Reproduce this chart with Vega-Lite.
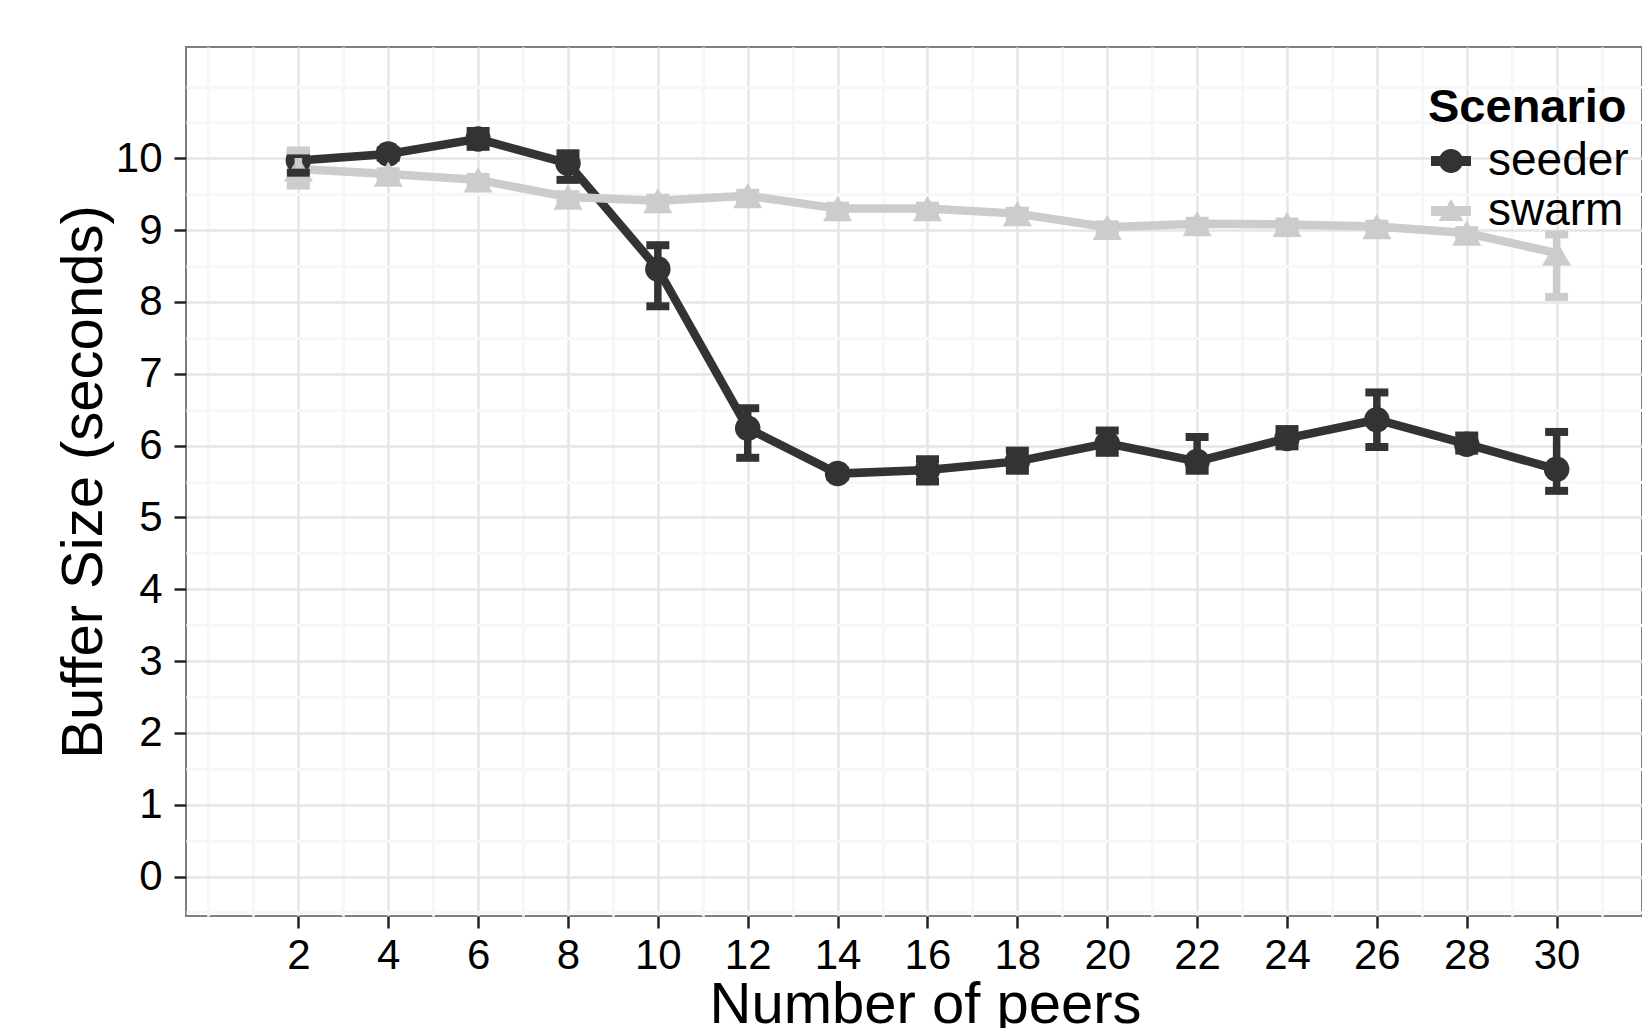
{
  "$schema": "https://vega.github.io/schema/vega-lite/v6.json",
  "width": 1456,
  "height": 869,
  "autosize": {"type": "none"},
  "padding": {"left": 186, "top": 47, "right": 0, "bottom": 112},
  "background": "white",
  "config": {
    "font": "Liberation Sans",
    "view": {"stroke": "#7f7f7f", "strokeWidth": 2}
  },
  "data": {
    "values": [
      {"n": 2, "scenario": "seeder", "buffer": 9.97, "lo": 9.80, "hi": 10.06},
      {"n": 4, "scenario": "seeder", "buffer": 10.06, "lo": 10.01, "hi": 10.11},
      {"n": 6, "scenario": "seeder", "buffer": 10.27, "lo": 10.16, "hi": 10.38},
      {"n": 8, "scenario": "seeder", "buffer": 9.93, "lo": 9.70, "hi": 10.07},
      {"n": 10, "scenario": "seeder", "buffer": 8.46, "lo": 7.94, "hi": 8.79},
      {"n": 12, "scenario": "seeder", "buffer": 6.24, "lo": 5.83, "hi": 6.52},
      {"n": 14, "scenario": "seeder", "buffer": 5.61, "lo": 5.57, "hi": 5.65},
      {"n": 16, "scenario": "seeder", "buffer": 5.66, "lo": 5.50, "hi": 5.81},
      {"n": 18, "scenario": "seeder", "buffer": 5.78, "lo": 5.65, "hi": 5.93},
      {"n": 20, "scenario": "seeder", "buffer": 6.03, "lo": 5.90, "hi": 6.21},
      {"n": 22, "scenario": "seeder", "buffer": 5.78, "lo": 5.65, "hi": 6.12},
      {"n": 24, "scenario": "seeder", "buffer": 6.10, "lo": 5.99, "hi": 6.23},
      {"n": 26, "scenario": "seeder", "buffer": 6.36, "lo": 5.98, "hi": 6.74},
      {"n": 28, "scenario": "seeder", "buffer": 6.02, "lo": 5.93, "hi": 6.14},
      {"n": 30, "scenario": "seeder", "buffer": 5.67, "lo": 5.37, "hi": 6.19},
      {"n": 2, "scenario": "swarm", "buffer": 9.85, "lo": 9.62, "hi": 10.11},
      {"n": 4, "scenario": "swarm", "buffer": 9.78, "lo": 9.74, "hi": 9.82},
      {"n": 6, "scenario": "swarm", "buffer": 9.70, "lo": 9.66, "hi": 9.74},
      {"n": 8, "scenario": "swarm", "buffer": 9.46, "lo": 9.42, "hi": 9.50},
      {"n": 10, "scenario": "swarm", "buffer": 9.41, "lo": 9.37, "hi": 9.45},
      {"n": 12, "scenario": "swarm", "buffer": 9.48, "lo": 9.44, "hi": 9.52},
      {"n": 14, "scenario": "swarm", "buffer": 9.30, "lo": 9.26, "hi": 9.34},
      {"n": 16, "scenario": "swarm", "buffer": 9.30, "lo": 9.26, "hi": 9.34},
      {"n": 18, "scenario": "swarm", "buffer": 9.23, "lo": 9.19, "hi": 9.27},
      {"n": 20, "scenario": "swarm", "buffer": 9.04, "lo": 9.00, "hi": 9.08},
      {"n": 22, "scenario": "swarm", "buffer": 9.09, "lo": 9.05, "hi": 9.13},
      {"n": 24, "scenario": "swarm", "buffer": 9.08, "lo": 9.04, "hi": 9.12},
      {"n": 26, "scenario": "swarm", "buffer": 9.05, "lo": 9.01, "hi": 9.09},
      {"n": 28, "scenario": "swarm", "buffer": 8.96, "lo": 8.92, "hi": 9.00},
      {"n": 30, "scenario": "swarm", "buffer": 8.68, "lo": 8.07, "hi": 8.94}
    ]
  },
  "resolve": {
    "axis": {"x": "independent", "y": "independent"},
    "scale": {"shape": "independent"},
    "legend": {"color": "independent", "shape": "independent"}
  },
  "layer": [
    {
      "mark": {"type": "point", "opacity": 0},
      "encoding": {
        "x": {"field": "n", "type": "quantitative", "scale": {"domain": [-0.5, 31.9], "nice": false, "zero": false},
          "axis": {"orient": "top", "values": [0, 1, 3, 5, 7, 9, 11, 13, 15, 17, 19, 21, 23, 25, 27, 29, 31], "labels": false, "ticks": false, "domain": false, "title": null, "grid": true, "gridColor": "#f7f7f7", "gridWidth": 3}},
        "y": {"field": "buffer", "type": "quantitative", "scale": {"domain": [-0.55, 11.55], "nice": false, "zero": false},
          "axis": {"orient": "right", "values": [-0.5, 0.5, 1.5, 2.5, 3.5, 4.5, 5.5, 6.5, 7.5, 8.5, 9.5, 10.5, 11], "labels": false, "ticks": false, "domain": false, "title": null, "grid": true, "gridColor": "#f7f7f7", "gridWidth": 3}}
      }
    },
    {
      "mark": {"type": "line", "strokeWidth": 8.5},
      "encoding": {
        "x": {"field": "n", "type": "quantitative",
          "axis": {"orient": "bottom", "values": [2, 4, 6, 8, 10, 12, 14, 16, 18, 20, 22, 24, 26, 28, 30], "title": "Number of peers", "titleFontSize": 58, "titleFontWeight": "normal", "titleColor": "black", "titlePadding": 0, "titleX": 739, "labelFontSize": 42, "labelColor": "black", "labelPadding": 7, "labelOverlap": false, "labelFlush": false, "tickSize": 12, "tickWidth": 2.5, "tickColor": "#222222", "domain": false, "grid": true, "gridColor": "#e6e6e6", "gridWidth": 2.5}},
        "y": {"field": "buffer", "type": "quantitative",
          "axis": {"orient": "left", "values": [0, 1, 2, 3, 4, 5, 6, 7, 8, 9, 10], "title": "Buffer Size (seconds)", "titleFontSize": 58, "titleFontWeight": "normal", "titleColor": "black", "titlePadding": 2, "labelFontSize": 42, "labelColor": "black", "labelPadding": 12, "labelOverlap": false, "tickSize": 12, "tickWidth": 2.5, "tickColor": "#222222", "domain": false, "grid": true, "gridColor": "#e6e6e6", "gridWidth": 2.5}},
        "color": {"field": "scenario", "type": "nominal", "scale": {"domain": ["seeder", "swarm"], "range": ["#333333", "#cccccc"]}, "legend": null},
        "detail": {"field": "scenario"}
      }
    },
    {
      "mark": {"type": "point", "filled": true, "opacity": 1},
      "encoding": {
        "x": {"field": "n", "type": "quantitative", "axis": null},
        "y": {"field": "buffer", "type": "quantitative", "axis": null},
        "color": {"field": "scenario", "type": "nominal", "legend": null},
        "shape": {"field": "scenario", "type": "nominal", "scale": {"domain": ["seeder", "swarm"], "range": ["circle", "triangle-up"]}, "legend": null},
        "size": {"field": "scenario", "type": "nominal", "scale": {"domain": ["seeder", "swarm"], "range": [650, 850]}, "legend": null}
      }
    },
    {
      "mark": {"type": "rule", "strokeWidth": 7.5},
      "encoding": {
        "x": {"field": "n", "type": "quantitative", "axis": null},
        "y": {"field": "lo", "type": "quantitative", "axis": null},
        "y2": {"field": "hi"},
        "color": {"field": "scenario", "type": "nominal", "legend": null}
      }
    },
    {
      "mark": {"type": "tick", "orient": "horizontal", "size": 23, "thickness": 8, "opacity": 1},
      "encoding": {
        "x": {"field": "n", "type": "quantitative", "axis": null},
        "y": {"field": "lo", "type": "quantitative", "axis": null},
        "color": {"field": "scenario", "type": "nominal", "legend": null}
      }
    },
    {
      "mark": {"type": "tick", "orient": "horizontal", "size": 23, "thickness": 8, "opacity": 1},
      "encoding": {
        "x": {"field": "n", "type": "quantitative", "axis": null},
        "y": {"field": "hi", "type": "quantitative", "axis": null},
        "color": {"field": "scenario", "type": "nominal", "legend": null}
      }
    },
    {
      "transform": [{"filter": "datum.n < 0"}],
      "mark": {"type": "point", "filled": true, "opacity": 1, "size": 1600},
      "encoding": {
        "x": {"field": "n", "type": "quantitative", "axis": null},
        "y": {"field": "buffer", "type": "quantitative", "axis": null},
        "color": {"field": "scenario", "type": "nominal",
          "legend": {"title": "Scenario", "orient": "none", "legendX": 1242, "legendY": 38, "padding": 0,
            "titleFontSize": 47, "titleFontWeight": "bold", "titleColor": "black", "titlePadding": 6, "titleLimit": 600,
            "labelFontSize": 46, "labelColor": "black", "labelOffset": 14, "labelLimit": 600, "rowPadding": 4,
            "symbolSize": 1600, "symbolStrokeWidth": 0, "symbolOpacity": 1,
            "encode": {"symbols": {"update": {"fill": {"signal": "datum.value === 'seeder' ? '#333333' : '#cccccc'"}}}}}},
        "shape": {"field": "scenario", "type": "nominal",
          "scale": {"domain": ["seeder", "swarm"], "range": ["M-1,-0.25H1V0.25H-1Z M-0.6,0A0.6,0.6 0 1,1 0.6,0A0.6,0.6 0 1,1 -0.6,0Z", "M-1,-0.25H1V0.25H-1Z M0,-0.6L0.62,0.5L-0.62,0.5Z"]},
          "legend": {"title": "Scenario", "orient": "none", "legendX": 1242, "legendY": 38, "padding": 0,
            "titleFontSize": 47, "titleFontWeight": "bold", "titleColor": "black", "titlePadding": 6, "titleLimit": 600,
            "labelFontSize": 46, "labelColor": "black", "labelOffset": 14, "labelLimit": 600, "rowPadding": 4,
            "symbolSize": 1600, "symbolStrokeWidth": 0, "symbolOpacity": 1,
            "encode": {"symbols": {"update": {"fill": {"signal": "datum.value === 'seeder' ? '#333333' : '#cccccc'"}}}}}}
      }
    }
  ]
}
